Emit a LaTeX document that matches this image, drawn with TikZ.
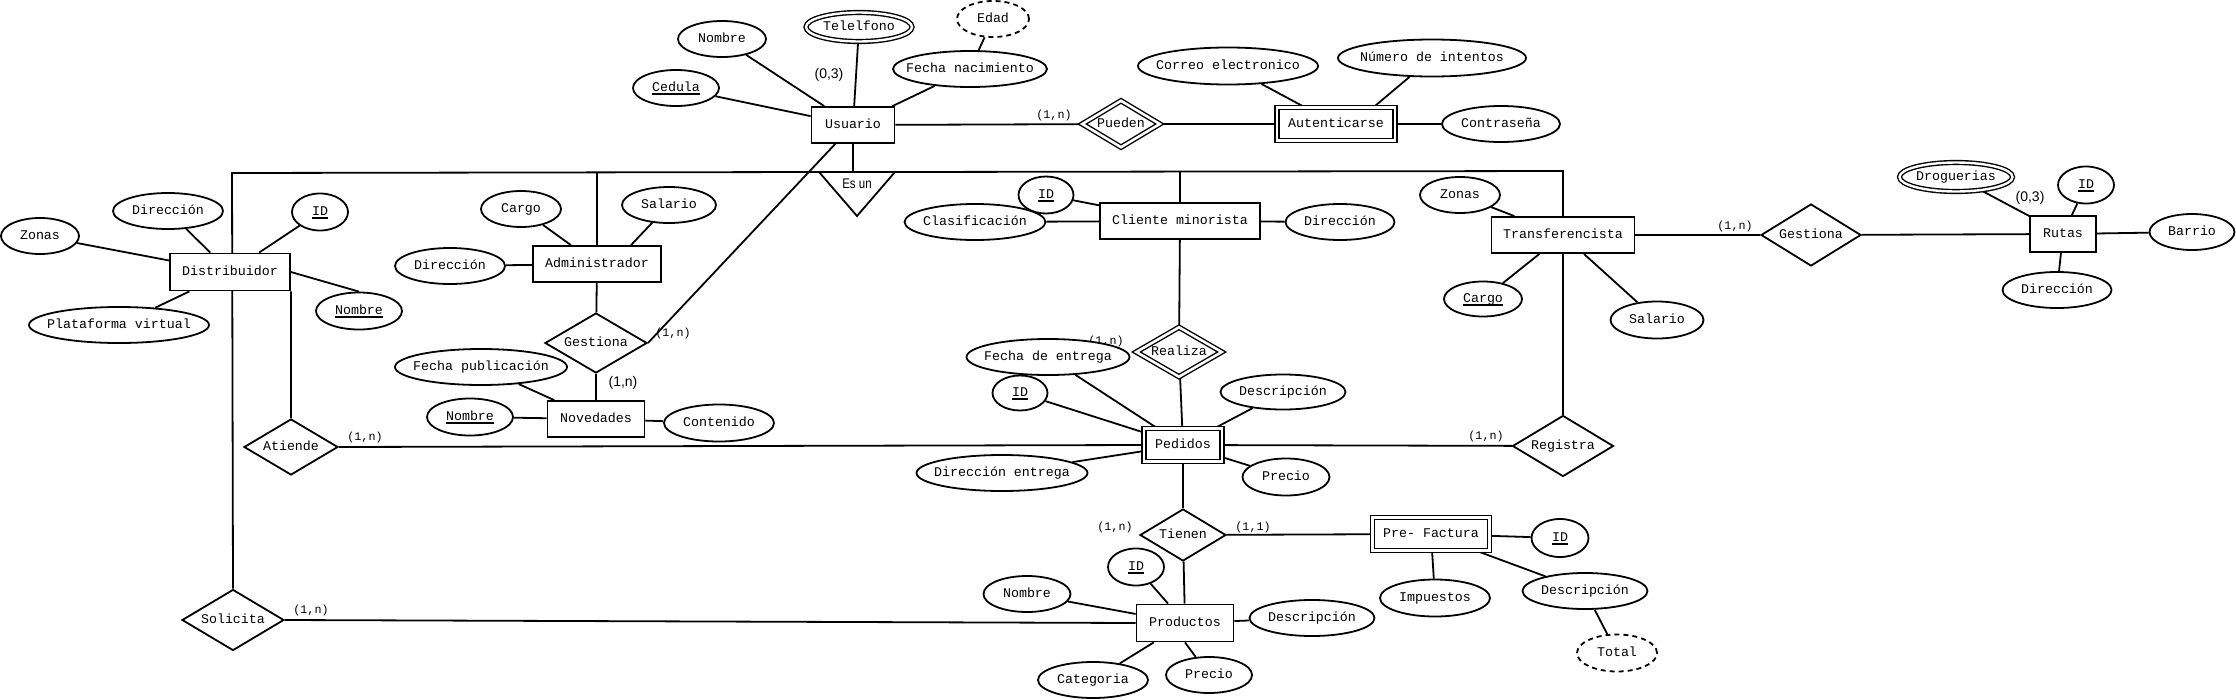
\documentclass[tikz,border=0pt]{standalone}
\usepackage{fontspec}
\usepackage{graphicx}
\setmonofont{Liberation Mono}
\setsansfont{Liberation Sans}
\usetikzlibrary{shapes.geometric,calc}
\pgfdeclarelayer{bg}
\pgfsetlayers{bg,main}
\newcommand\erfont{\ttfamily\fontsize{13.3pt}{16pt}\selectfont}
\newcommand\ertx[1]{\makebox[0pt]{#1}}
\newcommand\erkey[1]{{\setbox0=\hbox{#1}\rlap{\rule[-4pt]{\wd0}{1.6pt}}\box0}}
\tikzset{
  sz/.style 2 args={minimum width=#1pt, minimum height=#2pt},
  erline/.style={line width=1.8pt},
  base/.style={draw, line width=1.8pt, fill=white, inner sep=0pt, text height=8pt, text depth=2pt},
  ent/.style={base, rectangle},
  went/.style={ent, double, double distance=2.6pt, line width=1.4pt},
  attr/.style={base, ellipse},
  mattr/.style={attr, double, double distance=2.4pt, line width=1.4pt},
  dattr/.style={attr, dash pattern=on 5pt off 4pt},
  rel/.style={base, diamond},
  wrel/.style={rel, double, double distance=2.6pt, line width=1.4pt},
  card/.style={inner sep=0pt, font=\ttfamily\fontsize{11.7pt}{14pt}\selectfont},
  ncard/.style={inner sep=0pt, font=\sffamily\fontsize{14pt}{16pt}\selectfont},
}
\begin{document}
\begin{tikzpicture}[x=1pt, y=-1pt, font=\erfont]
\useasboundingbox (0,0) rectangle (2236,699);
% ---------- entities
\node[ent, sz={120}{37}] (dist) at (230,272) {\ertx{Distribuidor}};
\node[ent, sz={128}{36}] (adm) at (597,264) {\ertx{Administrador}};
\node[ent, sz={97}{36}] (nov) at (596,419) {\ertx{Novedades}};
\node[ent, sz={83}{36}] (usu) at (853,125) {\ertx{Usuario}};
\node[went, sz={118}{33}] (aut) at (1336,124) {\ertx{Autenticarse}};
\node[ent, sz={160}{36}] (cli) at (1180,221) {\ertx{Cliente minorista}};
\node[ent, sz={143}{36}] (trans) at (1563,235) {\ertx{Transferencista}};
\node[ent, sz={66}{36}] (rut) at (2063,234) {\ertx{Rutas}};
\node[went, sz={78}{33}] (ped) at (1183,445) {\ertx{Pedidos}};
\node[went, sz={117}{33}] (pf) at (1431,534) {\ertx{Pre- Factura}};
\node[ent, sz={97}{37}] (prod) at (1185,623) {\ertx{Productos}};
% ---------- relationships
\node[rel, sz={102}{60}] (gesA) at (596,343) {\ertx{Gestiona}};
\node[rel, sz={94}{56}] (ati) at (291,447) {\ertx{Atiende}};
\node[rel, sz={102}{61}] (sol) at (233,620) {\ertx{Solicita}};
\node[wrel, sz={78}{47}] (pue) at (1121,124) {\ertx{Pueden}};
\node[wrel, sz={86}{50}] (rea) at (1179,352) {\ertx{Realiza}};
\node[rel, sz={86}{52}] (tie) at (1183,535) {\ertx{Tienen}};
\node[rel, sz={100}{62}] (gesT) at (1811,235) {\ertx{Gestiona}};
\node[rel, sz={101}{61}] (reg) at (1563,446) {\ertx{Registra}};
% ---------- attributes
\node[attr, sz={78}{36}] (zonD) at (40,236) {\ertx{Zonas}};
\node[attr, sz={110}{36}] (dirD) at (168,211) {\ertx{Dirección}};
\node[attr, sz={56}{37}] (idD) at (320,212) {\ertx{\erkey{ID}}};
\node[attr, sz={86}{37}] (nomD) at (359,311) {\ertx{\erkey{Nombre}}};
\node[attr, sz={180}{36}] (plat) at (119,325) {\ertx{Plataforma virtual}};
\node[attr, sz={80}{36}] (carA) at (521,209) {\ertx{Cargo}};
\node[attr, sz={94}{36}] (salA) at (669,205) {\ertx{Salario}};
\node[attr, sz={110}{36}] (dirA) at (450,266) {\ertx{Dirección}};
\node[attr, sz={172}{36}] (fpub) at (481,367) {\ertx{Fecha publicación}};
\node[attr, sz={86}{37}] (nomN) at (470,417) {\ertx{\erkey{Nombre}}};
\node[attr, sz={110}{37}] (cont) at (719,423) {\ertx{Contenido}};
\node[attr, sz={88}{36}] (nomU) at (722,39) {\ertx{Nombre}};
\node[mattr, sz={106}{29}] (tel) at (859,27) {\ertx{Telelfono}};
\node[dattr, sz={72}{36}] (edad) at (993,19) {\ertx{Edad}};
\node[attr, sz={154}{36}] (fnac) at (970,69) {\ertx{Fecha nacimiento}};
\node[attr, sz={86}{36}] (ced) at (676,88) {\ertx{\erkey{Cedula}}};
\node[attr, sz={180}{37}] (cor) at (1228,66) {\ertx{Correo electronico}};
\node[attr, sz={188}{37}] (nint) at (1432,58) {\ertx{Número de intentos}};
\node[attr, sz={118}{36}] (con) at (1501,124) {\ertx{Contraseña}};
\node[attr, sz={55}{37}] (idC) at (1046,195) {\ertx{\erkey{ID}}};
\node[attr, sz={141}{36}] (clas) at (975,222) {\ertx{Clasificación}};
\node[attr, sz={109}{36}] (dirC) at (1340,222) {\ertx{Dirección}};
\node[attr, sz={80}{36}] (zonT) at (1460,195) {\ertx{Zonas}};
\node[attr, sz={78}{35}] (carT) at (1483,299) {\ertx{\erkey{Cargo}}};
\node[attr, sz={93}{37}] (salT) at (1657,320) {\ertx{Salario}};
\node[mattr, sz={113}{29}] (drog) at (1956,177) {\ertx{Droguerias}};
\node[attr, sz={56}{37}] (idR) at (2086,185) {\ertx{\erkey{ID}}};
\node[attr, sz={85}{36}] (bar) at (2192,232) {\ertx{Barrio}};
\node[attr, sz={109}{36}] (dirR) at (2057,290) {\ertx{Dirección}};
\node[attr, sz={163}{36}] (fent) at (1048,357) {\ertx{Fecha de entrega}};
\node[attr, sz={55}{35}] (idP) at (1020,393) {\ertx{\erkey{ID}}};
\node[attr, sz={125}{35}] (desP) at (1283,392) {\ertx{Descripción}};
\node[attr, sz={171}{36}] (dent) at (1002,473) {\ertx{Dirección entrega}};
\node[attr, sz={87}{37}] (preP) at (1286,477) {\ertx{Precio}};
\node[attr, sz={57}{38}] (idF) at (1560,538) {\ertx{\erkey{ID}}};
\node[attr, sz={110}{37}] (imp) at (1435,598) {\ertx{Impuestos}};
\node[attr, sz={125}{36}] (desF) at (1585,591) {\ertx{Descripción}};
\node[dattr, sz={80}{37}] (tot) at (1617,653) {\ertx{Total}};
\node[attr, sz={56}{37}] (idPr) at (1136,567) {\ertx{\erkey{ID}}};
\node[attr, sz={87}{36}] (nomPr) at (1027,594) {\ertx{Nombre}};
\node[attr, sz={125}{36}] (desPr) at (1312,618) {\ertx{Descripción}};
\node[attr, sz={110}{36}] (cat) at (1093,680) {\ertx{Categoria}};
\node[attr, sz={86}{36}] (prePr) at (1209,675) {\ertx{Precio}};
% ---------- "Es un" triangle
\coordinate (esL) at (819,172);
\coordinate (esR) at (895,172);
\coordinate (esB) at (857,216);
\draw[erline, fill=white] (esL) -- (esR) -- (esB) -- cycle;
\node[ncard] (esun) at (857,184) {\scalebox{0.82}[1]{Es un}};
% ---------- cardinalities
\node[card] (c1) at (673,333) {(1,n)};
\node[ncard] (c2) at (623,383) {(1,n)};
\node[ncard] (c3) at (829,75) {(0,3)};
\node[card] (c4) at (1054,115) {(1,n)};
\node[card] (c5) at (365,437) {(1,n)};
\node[card] (c6) at (311,610) {(1,n)};
\node[card] (c8) at (1486,436) {(1,n)};
\node[card] (c9) at (1115,527) {(1,n)};
\node[card] (c10) at (1253,527) {(1,1)};
\node[card] (c11) at (1735,226) {(1,n)};
\node[ncard] (c12) at (2030,198) {(0,3)};
% ---------- connectors
\begin{pgfonlayer}{bg}
\node[card] (c7) at (1106,341) {(1,n)};
\coordinate (fTL) at (232,173);
\coordinate (fTR) at (1563,171);
\draw[erline] (sol.north) -- (fTL) -- (esL);
\draw[erline] (esR) -- (fTR) -- (trans.north);
\draw[erline] (adm.north) -- (adm.north |- fTL);
\draw[erline] (cli.north) -- (cli.north |- fTR);
\draw[erline] (usu.south) -- (usu.south |- esL);
\draw[erline] (gesA.east) -- (usu);
% Distribuidor
\draw[erline] (zonD) -- (dist);
\draw[erline] (dirD) -- (dist);
\draw[erline] (idD) -- (dist);
\draw[erline] (dist.east) -- (nomD.north);
\draw[erline] (plat) -- (dist);
\draw[erline] (dist.south east) -- (ati.north);
\draw[erline] (ati.east) -- (ped.west);
\draw[erline] (sol.east) -- (prod.west);
% Administrador / Novedades
\draw[erline] (carA) -- (adm);
\draw[erline] (salA) -- ($(adm.north)+(34,0)$);
\draw[erline] (dirA) -- (adm);
\draw[erline] (adm) -- (gesA);
\draw[erline] (gesA) -- (nov);
\draw[erline] (fpub) -- (nov);
\draw[erline] (nomN) -- (nov);
\draw[erline] (cont) -- (nov);
% Usuario
\draw[erline] (ced) -- (usu);
\draw[erline] (nomU) -- (usu);
\draw[erline] (tel) -- (usu);
\draw[erline] (fnac) -- (usu);
\draw[erline] (edad) -- (fnac);
\draw[erline] (usu) -- (pue);
\draw[erline] (pue) -- (aut);
\draw[erline] (cor) -- (aut);
\draw[erline] (nint) -- ($(aut.north)+(38,0)$);
\draw[erline] (con) -- (aut);
% Cliente minorista / Pedidos
\draw[erline] (idC) -- (cli);
\draw[erline] (clas) -- (cli);
\draw[erline] (dirC) -- (cli);
\draw[erline] (cli) -- (rea);
\draw[erline] (rea) -- (ped);
\draw[erline] (fent) -- (ped);
\draw[erline] (idP) -- (ped);
\draw[erline] (desP) -- (ped);
\draw[erline] (dent) -- (ped);
\draw[erline] (preP) -- (ped);
\draw[erline] (ped) -- (reg);
\draw[erline] (ped) -- (tie);
\draw[erline] (tie) -- (prod);
\draw[erline] (tie) -- (pf);
\draw[erline] (trans) -- (reg);
% Pre- Factura
\draw[erline] (idF) -- (pf);
\draw[erline] (imp) -- (pf);
\draw[erline] (desF) -- (pf);
\draw[erline] (tot) -- (desF);
% Productos
\draw[erline] (idPr) -- (prod);
\draw[erline] (nomPr) -- (prod);
\draw[erline] (desPr) -- (prod);
\draw[erline] (cat) -- (prod);
\draw[erline] (prePr) -- (prod.south);
% Transferencista / Rutas
\draw[erline] (zonT) -- (trans);
\draw[erline] (carT) -- (trans);
\draw[erline] (salT) -- (trans);
\draw[erline] (trans) -- (gesT);
\draw[erline] (gesT) -- (rut);
\draw[erline] (drog) -- (rut);
\draw[erline] (idR) -- (rut);
\draw[erline] (bar) -- (rut);
\draw[erline] (dirR) -- (rut);
\end{pgfonlayer}
\end{tikzpicture}
\end{document}
